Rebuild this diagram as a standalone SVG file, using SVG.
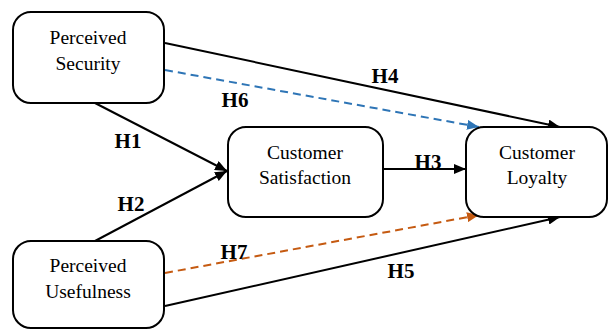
<svg xmlns="http://www.w3.org/2000/svg" width="608" height="329" viewBox="0 0 608 329">
<defs>
<style>
.box{fill:#fff;stroke:#000;stroke-width:2}
.t{font-family:"Liberation Serif","Times New Roman",serif;font-size:19.5px;text-anchor:middle;fill:#000}
.h{font-family:"Liberation Serif","Times New Roman",serif;font-size:21px;font-weight:bold;text-anchor:middle;fill:#000}
.l{fill:none;stroke:#000;stroke-width:2}
.b{fill:none;stroke:#2E75B6;stroke-width:2;stroke-dasharray:8 5}
.o{fill:none;stroke:#C55A11;stroke-width:2;stroke-dasharray:8 5}
</style>
<marker id="ak" viewBox="0 0 12 10" refX="12" refY="5" markerWidth="12" markerHeight="10" markerUnits="userSpaceOnUse" orient="auto"><path d="M0,0L12,5L0,10z" fill="#000"/></marker>
<marker id="ab" viewBox="0 0 12 10" refX="12" refY="5" markerWidth="12" markerHeight="10" markerUnits="userSpaceOnUse" orient="auto"><path d="M0,0L12,5L0,10z" fill="#2E75B6"/></marker>
<marker id="ao" viewBox="0 0 12 10" refX="12" refY="5" markerWidth="12" markerHeight="10" markerUnits="userSpaceOnUse" orient="auto"><path d="M0,0L12,5L0,10z" fill="#C55A11"/></marker>
</defs>
<g id="connectors">
<line class="l" x1="165" y1="43" x2="560" y2="127" marker-end="url(#ak)"/>
<line class="b" x1="165" y1="70" x2="479" y2="127" marker-end="url(#ab)"/>
<line class="l" x1="95" y1="103" x2="227" y2="171" marker-end="url(#ak)"/>
<line class="l" x1="95" y1="241" x2="227" y2="171" marker-end="url(#ak)"/>
<line class="l" x1="383" y1="169" x2="466" y2="169" marker-end="url(#ak)"/>
<line class="o" x1="165" y1="273" x2="479" y2="215" marker-end="url(#ao)"/>
<line class="l" x1="165" y1="306" x2="560" y2="217" marker-end="url(#ak)"/>
<text class="h" x="385" y="83">H4</text>
<text class="h" x="235" y="107">H6</text>
<text class="h" x="128" y="148">H1</text>
<text class="h" x="131" y="211">H2</text>
<text class="h" x="428" y="169">H3</text>
<text class="h" x="234" y="259">H7</text>
<text class="h" x="401" y="278">H5</text>
</g>
<g id="perceived-security">
<rect class="box" x="13" y="12" width="151" height="91" rx="18"/>
<text class="t" x="88" y="44">Perceived</text>
<text class="t" x="88" y="70">Security</text>
</g>
<g id="customer-satisfaction">
<rect class="box" x="228" y="127" width="155" height="90" rx="18"/>
<text class="t" x="305" y="159">Customer</text>
<text class="t" x="305" y="184">Satisfaction</text>
</g>
<g id="customer-loyalty">
<rect class="box" x="466" y="127" width="141" height="90" rx="18"/>
<text class="t" x="537" y="159">Customer</text>
<text class="t" x="537" y="184">Loyalty</text>
</g>
<g id="perceived-usefulness">
<rect class="box" x="13" y="241" width="151" height="87" rx="18"/>
<text class="t" x="88" y="272">Perceived</text>
<text class="t" x="88" y="298">Usefulness</text>
</g>
</svg>
